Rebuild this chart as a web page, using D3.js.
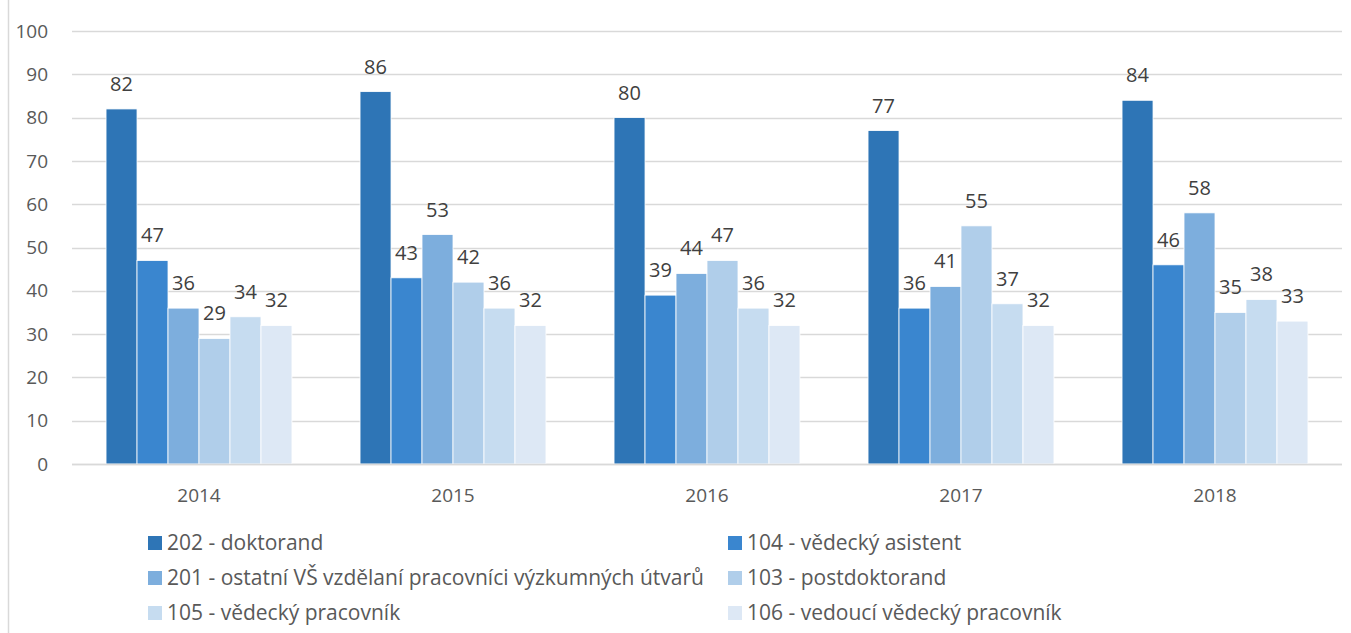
<!DOCTYPE html>
<html>
<head>
<meta charset="utf-8">
<script src="https://cdn.jsdelivr.net/npm/d3@7"></script>
<style>
  body { margin: 0; background: #fff; }
  svg { display: block; font-family: "Open Sans", "Noto Sans", sans-serif; }
</style>
</head>
<body>
<div id="chart"></div>
<script>
// Data
const years = ["2014", "2015", "2016", "2017", "2018"];
const seriesNames = [
  "202 - doktorand",
  "104 - vědecký asistent",
  "201 - ostatní VŠ vzdělaní pracovníci výzkumných útvarů",
  "103 - postdoktorand",
  "105 - vědecký pracovník",
  "106 - vedoucí vědecký pracovník"
];
const doktorand = [82, 86, 80, 77, 84];
const asistent = [47, 43, 39, 36, 46];
const ostatni = [36, 53, 44, 41, 58];
const postdoktorand = [29, 42, 47, 55, 35];
const pracovnik = [34, 36, 36, 37, 38];
const vedouci = [32, 32, 32, 32, 33];
const yTicks = [0, 10, 20, 30, 40, 50, 60, 70, 80, 90, 100];

const seriesValues = [doktorand, asistent, ostatni, postdoktorand, pracovnik, vedouci];
const colors = ["#2E75B6", "#3A86CF", "#7DAEDD", "#B0CEEA", "#C6DCF0", "#DDE8F5"];

const width = 1351, height = 633;
const svg = d3.select("#chart").append("svg")
  .attr("width", width)
  .attr("height", height);

// chart border (left edge visible)
svg.append("line")
  .attr("x1", 8.5).attr("x2", 8.5)
  .attr("y1", 0).attr("y2", height)
  .attr("stroke", "#d9d9d9").attr("stroke-width", 1.5);

const plotLeft = 72, plotRight = 1342, plotTop = 31, plotBottom = 464;

const x0 = d3.scaleBand().domain(years).range([plotLeft, plotRight]).paddingInner(0.268).paddingOuter(0.134);
const x1 = d3.scaleBand().domain(d3.range(seriesNames.length)).range([0, x0.bandwidth()]);
const y = d3.scaleLinear().domain([0, 100]).range([plotBottom, plotTop]);

// gridlines
svg.append("g")
  .selectAll("line")
  .data(yTicks)
  .join("line")
  .attr("x1", plotLeft).attr("x2", plotRight)
  .attr("y1", d => Math.round(y(d)) + 0.5)
  .attr("y2", d => Math.round(y(d)) + 0.5)
  .attr("stroke", "#d9d9d9")
  .attr("stroke-width", 1.5);

// y tick labels
svg.append("g")
  .selectAll("text")
  .data(yTicks)
  .join("text")
  .attr("x", 48)
  .attr("y", d => y(d))
  .attr("dy", "0.35em")
  .attr("text-anchor", "end")
  .attr("fill", "#595959")
  .style("font-size", "19px")
  .text(d => d);

// bars
const groups = svg.append("g")
  .selectAll("g")
  .data(years)
  .join("g")
  .attr("transform", d => `translate(${x0(d)},0)`);

groups.selectAll("rect")
  .data((d, i) => seriesValues.map((s, k) => ({ k: k, v: s[i] })))
  .join("rect")
  .attr("x", d => x1(d.k))
  .attr("y", d => y(d.v))
  .attr("width", x1.bandwidth())
  .attr("height", d => y(0) - y(d.v))
  .attr("fill", d => colors[d.k])
  .attr("stroke", "#ffffff")
  .attr("stroke-width", 0.8);

groups.selectAll("text")
  .data((d, i) => seriesValues.map((s, k) => ({ k: k, v: s[i] })))
  .join("text")
  .attr("x", d => x1(d.k) + x1.bandwidth() / 2)
  .attr("y", d => y(d.v) - 18)
  .attr("text-anchor", "middle")
  .attr("fill", "#404040")
  .style("font-size", "20px")
  .text(d => d.v);

// x axis
svg.append("line")
  .attr("x1", plotLeft).attr("x2", plotRight)
  .attr("y1", plotBottom + 0.5).attr("y2", plotBottom + 0.5)
  .attr("stroke", "#d9d9d9").attr("stroke-width", 1.5);

svg.append("g")
  .selectAll("text")
  .data(years)
  .join("text")
  .attr("x", d => x0(d) + x0.bandwidth() / 2)
  .attr("y", 502)
  .attr("text-anchor", "middle")
  .attr("fill", "#595959")
  .style("font-size", "19px")
  .text(d => d);

// legend
const legend = svg.append("g")
  .selectAll("g")
  .data(seriesNames)
  .join("g")
  .attr("transform", (d, i) => `translate(${i % 2 === 0 ? 148 : 728},${543 + Math.floor(i / 2) * 35})`);

legend.append("rect")
  .attr("x", 0).attr("y", -7)
  .attr("width", 14).attr("height", 14)
  .attr("fill", (d, i) => colors[i]);

legend.append("text")
  .attr("x", 19)
  .attr("y", 0)
  .attr("dy", "0.35em")
  .attr("fill", "#595959")
  .style("font-size", "21px")
  .text(d => d);
</script>
</body>
</html>
